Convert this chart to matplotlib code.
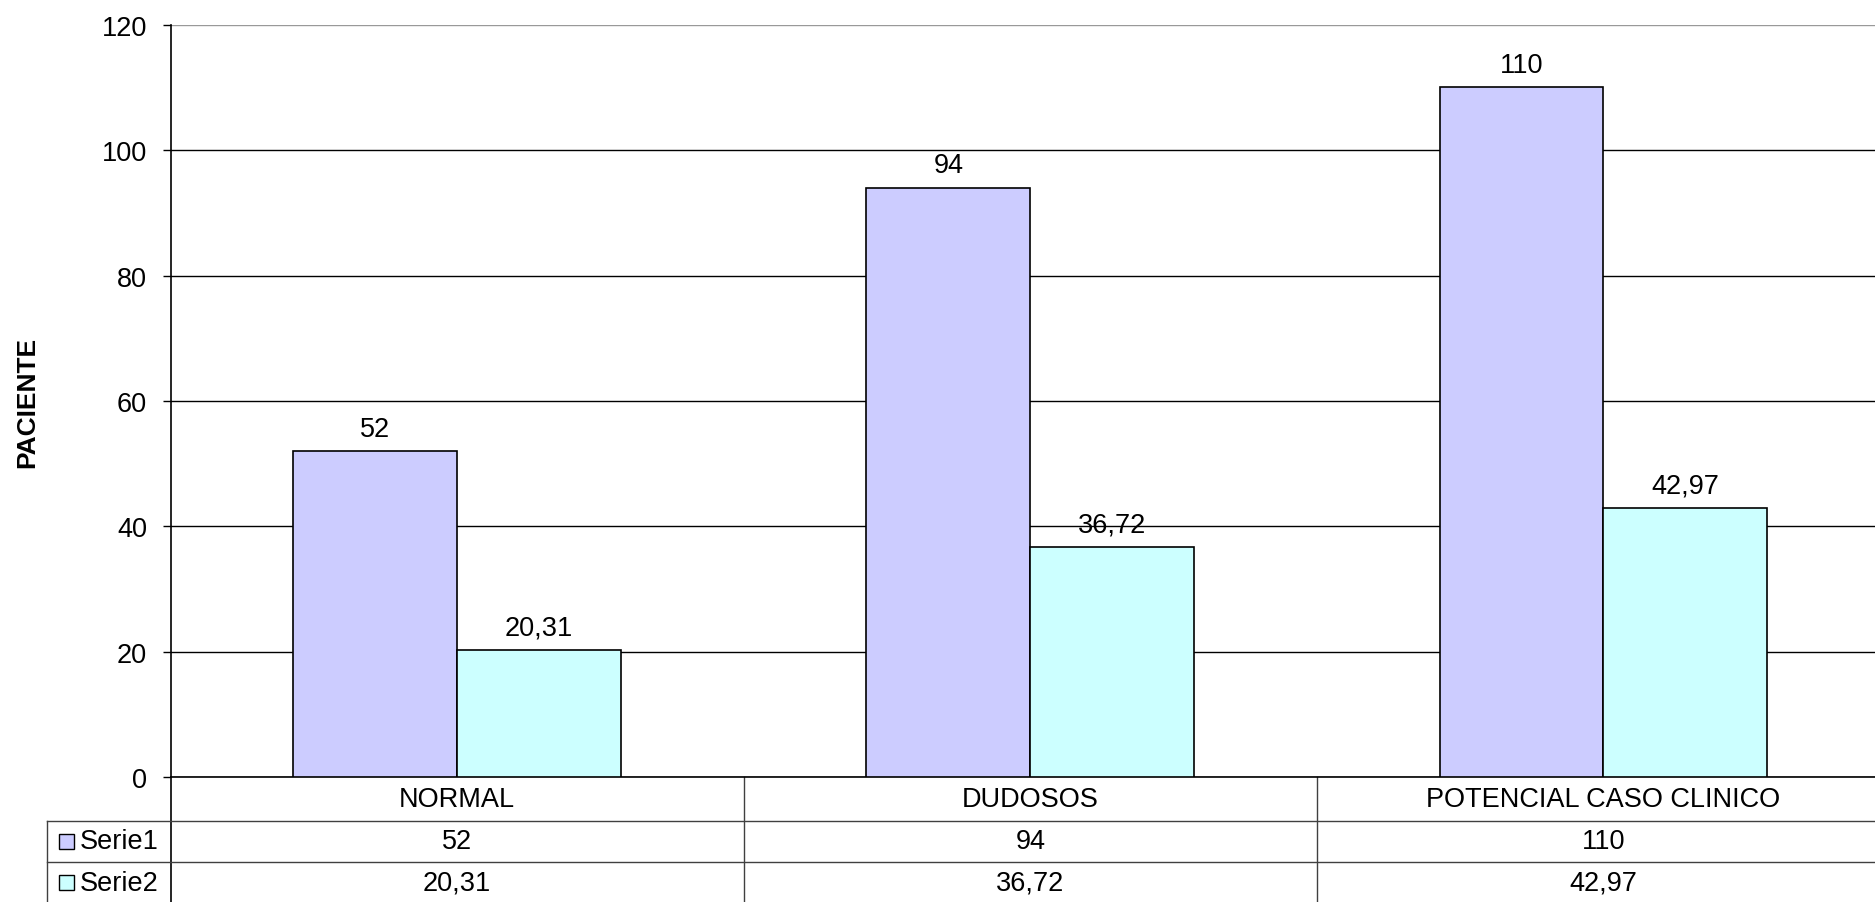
import numpy as np
import matplotlib
matplotlib.use('Agg')
from matplotlib import pyplot as plt
from matplotlib.patches import Rectangle
from matplotlib.transforms import blended_transform_factory

plt.rcParams['font.family'] = ['Liberation Sans', 'DejaVu Sans']

# datos
categorias = ['NORMAL', 'DUDOSOS', 'POTENCIAL CASO CLINICO']
serie1 = [52, 94, 110]
serie2 = [20.31, 36.72, 42.97]
nombres = ['Serie1', 'Serie2']
colores = ['#ccccff', '#ccffff']
yticks = [0, 20, 40, 60, 80, 100, 120]

fs = 19.5


def fmt(v):
    # formato con coma decimal
    if float(v).is_integer():
        return str(int(v))
    return ('%.2f' % v).replace('.', ',')


fig = plt.figure(figsize=(18.75, 9.03), dpi=100)
ax = fig.add_axes([170.7 / 1875, 1 - 778.3 / 903, 1719.3 / 1875, 752.6 / 903])

x = np.arange(len(categorias))
w = 0.286
series = [serie1, serie2]
for k, vals in enumerate(series):
    off = (k - 0.5) * w
    ax.bar(x + off, vals, w, color=colores[k], edgecolor='black', linewidth=1.2, zorder=3)
    for xi, v in zip(x, vals):
        ax.annotate(fmt(v), xy=(xi + off, v), xytext=(0, 11), textcoords='offset points',
                    ha='center', va='baseline', fontsize=fs, zorder=4)

ax.set_xlim(-0.5, len(categorias) - 0.5)
ax.set_ylim(0, 120)
ax.set_yticks(yticks)
ax.set_yticklabels([str(t) for t in yticks])
ax.tick_params(axis='y', length=6, width=1, pad=11, labelsize=fs, direction='out')
ax.set_xticks([])

# lineas de la cuadricula
ax.grid(axis='y', color='black', linewidth=1)
ax.set_axisbelow(True)
ax.get_ygridlines()[-1].set_color('#999999')

for s in ['top', 'right']:
    ax.spines[s].set_visible(False)
ax.spines['left'].set_linewidth(1.2)
ax.spines['bottom'].set_linewidth(1.2)

ax.set_ylabel('PACIENTE', fontsize=19, fontweight='bold', va='center')
ax.yaxis.set_label_coords(-0.0836, 0.5)

# tabla de datos debajo del grafico
tr = blended_transform_factory(ax.transData, ax.transAxes)
y1, y2, y3 = -0.0577, -0.1125, -0.1674
izq = -0.716
lc = '#404040'

ax.plot([-0.5, -0.5], [0, y3], color='black', lw=1.2, transform=tr, clip_on=False)
for d in x[:-1] + 0.5:
    ax.plot([d, d], [0, y3], color=lc, lw=1, transform=tr, clip_on=False)
for yy in [y1, y2]:
    ax.plot([izq, len(categorias)], [yy, yy], color=lc, lw=1, transform=tr, clip_on=False)
ax.plot([izq, izq], [y1, y3], color=lc, lw=1, transform=tr, clip_on=False)

for xi, c in zip(x, categorias):
    ax.text(xi, (0 + y1) / 2, c, ha='center', va='center', fontsize=fs, transform=tr)

filas = [(y1, y2), (y2, y3)]
for k, vals in enumerate(series):
    yc = sum(filas[k]) / 2
    for xi, v in zip(x, vals):
        ax.text(xi, yc, fmt(v), ha='center', va='center', fontsize=fs, transform=tr)
    ax.add_patch(Rectangle((-0.695, yc - 0.01), 0.0262, 0.02, facecolor=colores[k],
                           edgecolor='black', lw=1, transform=tr, clip_on=False))
    ax.text(-0.658, yc, nombres[k], ha='left', va='center', fontsize=fs, transform=tr)

fig.savefig('out.png', dpi=100)
